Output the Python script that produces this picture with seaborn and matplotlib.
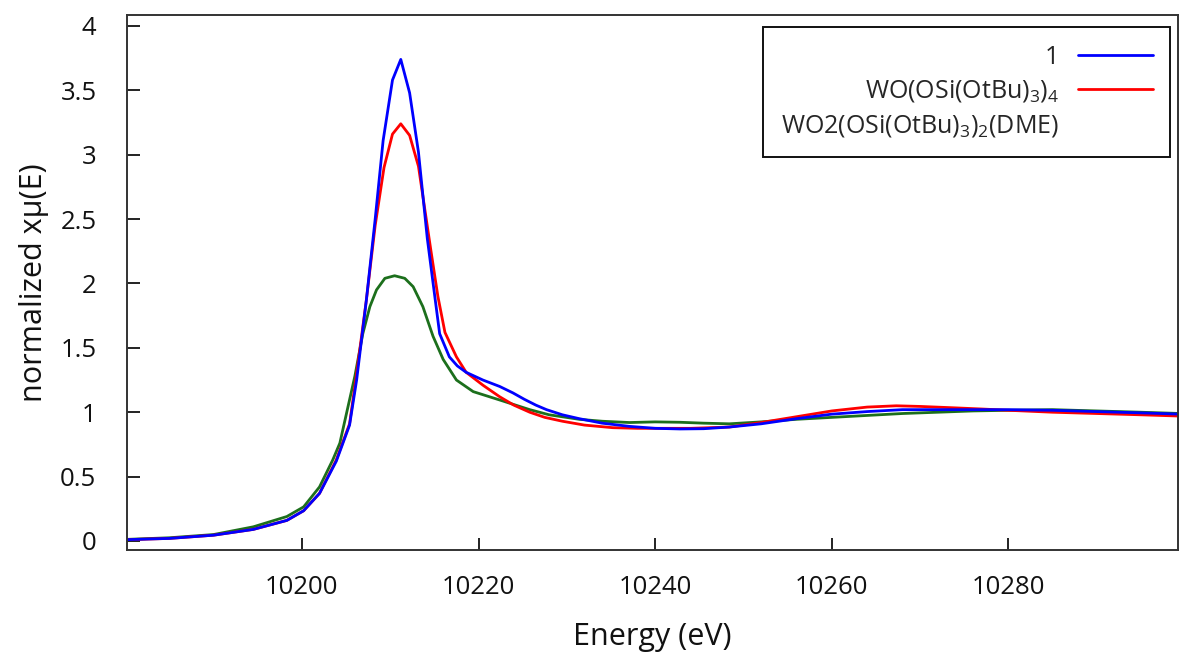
import numpy as np
import pandas as pd
import matplotlib
matplotlib.use("Agg")
import matplotlib.pyplot as plt
from matplotlib.lines import Line2D
import seaborn as sns

# ---------------- data ----------------
energy_1 = [10180, 10185, 10190, 10194.5, 10198.3, 10200.2, 10202, 10203.9, 10205.4,
            10206.2, 10207.3, 10208.3, 10209.2, 10210.26, 10211.2, 10212.2, 10213.2,
            10214.2, 10215.2, 10215.6, 10216.7, 10217.6, 10218.6, 10220.5, 10222.4,
            10223.9, 10225.2, 10226.5, 10227.7, 10229.5, 10231.4, 10234, 10237.1,
            10240, 10242.8, 10245.5, 10248.4, 10252, 10256, 10260, 10264, 10268,
            10272, 10276, 10280, 10285, 10290, 10295, 10299.5]
mu_1 = [0.01, 0.02, 0.045, 0.09, 0.16, 0.235, 0.37, 0.62, 0.9,
        1.25, 1.87, 2.5, 3.11, 3.58, 3.74, 3.48, 3.02,
        2.35, 1.82, 1.61, 1.43, 1.36, 1.31, 1.25, 1.20,
        1.15, 1.10, 1.055, 1.02, 0.98, 0.95, 0.915, 0.89,
        0.875, 0.87, 0.872, 0.885, 0.91, 0.95, 0.985, 1.005, 1.02,
        1.02, 1.02, 1.02, 1.015, 1.005, 0.995, 0.985]

energy_2 = [10180, 10185, 10190, 10194.5, 10198.3, 10200.2, 10202, 10203.9, 10205.4,
            10206.1, 10207.3, 10208.3, 10209.3, 10210.26, 10211.2, 10212.2, 10213.2,
            10214.6, 10215.4, 10216.2, 10217.5, 10218.6, 10220.5, 10222.4,
            10224, 10225.8, 10227.5, 10229.5, 10232, 10235.2, 10238, 10240.8,
            10244, 10248.4, 10252, 10256, 10260, 10264, 10267.3, 10270, 10273.6,
            10277, 10280, 10285, 10290, 10295, 10299.5]
mu_2 = [0.01, 0.02, 0.045, 0.09, 0.16, 0.235, 0.37, 0.63, 0.91,
        1.25, 1.87, 2.45, 2.9, 3.16, 3.24, 3.15, 2.91,
        2.26, 1.9, 1.62, 1.43, 1.31, 1.21, 1.12,
        1.055, 1.0, 0.96, 0.93, 0.9, 0.88, 0.875, 0.875,
        0.875, 0.885, 0.92, 0.965, 1.01, 1.04, 1.05, 1.045, 1.035,
        1.025, 1.015, 1.0, 0.99, 0.98, 0.97]

energy_3 = [10180, 10185, 10190, 10194.5, 10198.3, 10200.2, 10202, 10203.5, 10204.3,
            10205.05, 10206.0, 10206.9, 10207.7, 10208.45, 10209.4, 10210.5, 10211.65,
            10212.6, 10213.7, 10214.85, 10216.0, 10217.5, 10219.4, 10222.4,
            10225.8, 10228, 10231.4, 10234, 10237.1, 10240, 10242.8, 10245.5, 10248.4,
            10252, 10256, 10260, 10264, 10268, 10272, 10276, 10280, 10285, 10290,
            10295, 10299.5]
mu_3 = [0.012, 0.025, 0.05, 0.11, 0.19, 0.265, 0.42, 0.63, 0.76,
        0.99, 1.28, 1.61, 1.82, 1.95, 2.04, 2.06, 2.04,
        1.975, 1.82, 1.59, 1.41, 1.25, 1.16, 1.095,
        1.02, 0.98, 0.945, 0.93, 0.92, 0.925, 0.922, 0.915, 0.91,
        0.925, 0.945, 0.96, 0.975, 0.99, 1.0, 1.01, 1.015, 1.02, 1.01,
        1.0, 0.99]

labels = ["1", r"WO(OSi(OtBu)$_3$)$_4$", r"WO2(OSi(OtBu)$_3$)$_2$(DME)"]
colors = ["#0000ff", "#ff0000", "#1c6f1c"]
x_ticks = [10200, 10220, 10240, 10260, 10280]
y_ticks = [0, 0.5, 1, 1.5, 2, 2.5, 3, 3.5, 4]
y_tick_labels = ["0", "0.5", "1", "1.5", "2", "2.5", "3", "3.5", "4"]

# ---------------- figure ----------------
sns.set_theme(style="ticks")
plt.rcParams["font.family"] = ["Open Sans", "DejaVu Sans"]
plt.rcParams["mathtext.fontset"] = "custom"
plt.rcParams["mathtext.rm"] = "Open Sans"
plt.rcParams["mathtext.it"] = "Open Sans"
plt.rcParams["mathtext.default"] = "rm"
plt.rcParams["xtick.direction"] = "in"
plt.rcParams["ytick.direction"] = "in"
plt.rcParams["xtick.bottom"] = True
plt.rcParams["ytick.left"] = True

frames = []
for lab, e, m in zip(labels, [energy_1, energy_2, energy_3], [mu_1, mu_2, mu_3]):
    frames.append(pd.DataFrame({"Energy": e, "mu": m, "sample": lab}))
df = pd.concat(frames, ignore_index=True)

fig = plt.figure(figsize=(11.79, 6.56), dpi=100)
ax = fig.add_axes([127 / 1179, 1 - 550 / 656, (1178 - 127) / 1179, (550 - 15) / 656])

# draw in reverse order so blue is on top
for lab, col in list(zip(labels, colors))[::-1]:
    sub = df[df["sample"] == lab]
    sns.lineplot(data=sub, x="Energy", y="mu", color=col, lw=2.0,
                 sort=False, estimator=None, ax=ax, legend=False)

ax.set_xlim(10180.2, 10299.2)
ax.set_ylim(-0.07, 4.085)
ax.set_xticks(x_ticks)
ax.set_xticklabels([str(t) for t in x_ticks])
ax.set_yticks(y_ticks)
ax.set_yticklabels(y_tick_labels)
ax.tick_params(axis="both", which="major", direction="in", length=9, width=1.4,
               color="#222222", labelsize=18.5, labelcolor="#111111",
               bottom=True, left=True, top=False, right=False)
ax.tick_params(axis="x", pad=18)
ax.tick_params(axis="y", pad=22)
for s in ax.spines.values():
    s.set_visible(True)
    s.set_color("#333333")
    s.set_linewidth(1.4)
    s.set_zorder(3)

ax.set_xlabel("Energy (eV)", fontsize=22, color="#111111", labelpad=16)
ax.set_ylabel("normalized xμ(E)", fontsize=22, color="#111111", labelpad=8)

handles = [Line2D([], [], color=colors[0], lw=2.0),
           Line2D([], [], color=colors[1], lw=2.0),
           Line2D([], [], color="none", lw=2.0)]
leg = ax.legend(handles=handles, labels=labels, loc="upper right",
                bbox_to_anchor=(1170 / 1179, 1 - 27 / 656),
                bbox_transform=fig.transFigure, borderaxespad=0,
                markerfirst=False, fontsize=18, frameon=True, fancybox=False,
                handlelength=3.0, handletextpad=0.75, labelspacing=0.35,
                borderpad=0.7)
for t in leg.get_texts():
    t.set_ha("right")
leg._legend_box.align = "right"
leg.get_frame().set_edgecolor("#111111")
leg.get_frame().set_linewidth(1.4)
leg.get_frame().set_alpha(1)

fig.savefig("out.png", dpi=100)
